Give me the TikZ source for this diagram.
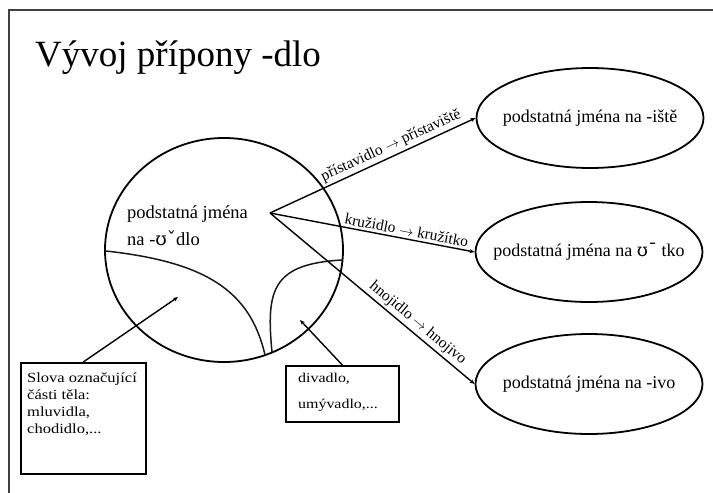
\documentclass[tikz,border=0pt]{standalone}
\usepackage{fontspec}
\setmainfont{Liberation Serif}
\newfontfamily\ipafont{DejaVu Serif}
\newfontfamily\widefont[FakeStretch=1.18]{Liberation Serif}
\usetikzlibrary{arrows.meta,shapes.geometric}
\tikzset{
  ln/.style={line width=1.5pt, black!90},
  target/.style={ellipse, draw, line width=1.8pt, minimum width=227pt, minimum height=100pt, font=\fontsize{18}{21}\selectfont, inner xsep=-25pt, inner ysep=0pt},
  conn/.style={line width=1.4pt, -{Stealth[length=5pt,width=4pt]}},
  lbl/.style={font=\fontsize{15.5}{18}\selectfont, sloped, above, inner sep=2.5pt},
  boxtext/.style={anchor=north west, align=left, inner sep=0pt},
}
\begin{document}
\begin{tikzpicture}[x=1pt,y=-1pt]
\useasboundingbox (0,0) rectangle (713,493);
% frame
\draw[line width=1.5pt, black!75] (713,10) -- (9,10) -- (9,493);
% title
\node[anchor=base west, font=\fontsize{37}{40}\selectfont, inner sep=0pt] (title) at (35,66) {Vývoj přípony -dlo};
% big circle
\node[ellipse, draw, line width=1.8pt, minimum width=238pt, minimum height=224pt] (C) at (224,250) {};
\coordinate (hub) at (270,213);
\node[anchor=base west, font=\fontsize{18.5}{21}\selectfont, inner sep=0pt] (t1) at (127,218) {podstatná jména};
\node[anchor=base west, font=\fontsize{18.5}{21}\selectfont, inner sep=0pt] (t2) at (127,245) {na -{\ipafont ʊ\raisebox{-0.5pt}{ˇ}}dlo};
% inner curves
\coordinate (a1) at (106,251);
\coordinate (a2) at (265,355);
\coordinate (b1) at (272,352);
\coordinate (b2) at (342,260);
\draw[ln] (a1) .. controls (205,262) and (250,290) .. (a2);
\draw[ln] (b1) .. controls (266,290) and (272,264) .. (b2);
% target ellipses
\node[target] (E1) at (590,118) {podstatná jména na -iště};
\node[target] (E2) at (589,252) {podstatná jména na {\ipafont ʊ¯} tko};
\node[target] (E3) at (589,384) {podstatná jména na -ivo};
% connectors
\draw[conn] (hub) -- node[lbl, pos=0.61] {přístavidlo $\rightarrow$ přístaviště} (E1.west);
\draw[conn] (hub) -- node[lbl, pos=0.66] {kružidlo $\rightarrow$ kružítko} (E2.west);
\draw[conn] (hub) -- node[lbl, pos=0.69] {hnojidlo $\rightarrow$ hnojivo} (E3.west);
% boxes
\node[draw, line width=1.6pt, minimum width=125pt, minimum height=111pt, inner sep=0pt, anchor=north west] (B1) at (20,362) {};
\node[boxtext, font=\widefont\fontsize{14}{17}\selectfont] (B1t) at (27,373) {Slova označující\\části těla:\\mluvidla,\\chodidlo,...};
\node[draw, line width=1.6pt, minimum width=113pt, minimum height=56pt, inner sep=0pt, anchor=north west] (B2) at (285,365) {};
\node[boxtext, font=\widefont\fontsize{13.5}{26}\selectfont] (B2t) at (298,373) {divadlo,\\umývadlo,...};
\coordinate (p1) at (178,297);
\coordinate (p2) at (300,320);
\draw[conn] (B1.north) -- (p1);
\draw[conn] (B2.north) -- (p2);
\end{tikzpicture}
\end{document}
